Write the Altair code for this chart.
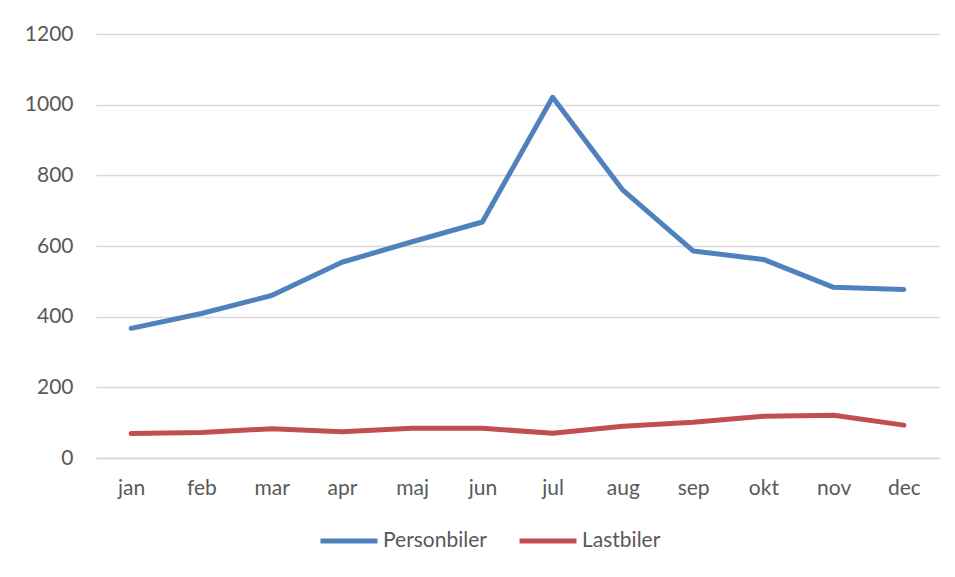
import altair as alt
import pandas as pd

months = ["jan", "feb", "mar", "apr", "maj", "jun", "jul", "aug", "sep", "okt", "nov", "dec"]
personbiler = [367, 409, 460, 554, 612, 668, 1021, 758, 586, 562, 483, 477]
lastbiler = [69, 72, 83, 74, 84, 84, 70, 90, 101, 118, 121, 93]
series_names = ["Personbiler", "Lastbiler"]
series_colors = ["#4F81BD", "#C0504D"]
y_ticks = [0, 200, 400, 600, 800, 1000, 1200]

rows = []
for i, m in enumerate(months):
    rows.append({"month": m, "serie": series_names[0], "value": personbiler[i]})
    rows.append({"month": m, "serie": series_names[1], "value": lastbiler[i]})
df = pd.DataFrame(rows)

FONT = "Lato"
TXT = "#595959"
GRID = "#d9d9d9"

chart = alt.Chart(df).mark_line(strokeWidth=5, strokeCap="round", strokeJoin="round").encode(
    x=alt.X("month:N", sort=months, scale=alt.Scale(type="point", padding=0.5),
            axis=alt.Axis(title=None, labelAngle=0, ticks=False, domainColor=GRID, domainWidth=1.5,
                          labelPadding=19, grid=False)),
    y=alt.Y("value:Q", scale=alt.Scale(domain=[0, 1200], nice=False),
            axis=alt.Axis(title=None, values=y_ticks, format="d", ticks=False, domain=False,
                          gridColor=GRID, gridWidth=1.5, labelPadding=23)),
    color=alt.Color("serie:N", sort=series_names,
                    scale=alt.Scale(domain=series_names, range=series_colors),
                    legend=alt.Legend(title=None, orient="none", direction="horizontal",
                                      legendX=222, legendY=476, symbolType="stroke",
                                      symbolSize=3249, symbolStrokeWidth=5,
                                      labelOffset=3, columnPadding=22)),
).properties(
    width=843, height=424,
    autosize=alt.AutoSizeParams(type="none"),
    padding={"left": 88, "top": 26, "right": 8, "bottom": 108},
).configure_axis(
    labelFont=FONT, labelFontSize=21, labelColor=TXT,
).configure_legend(
    labelFont=FONT, labelFontSize=21, labelColor=TXT,
).configure_view(stroke=None)

chart.save("out.html", embed_options={"renderer": "svg", "actions": False})
